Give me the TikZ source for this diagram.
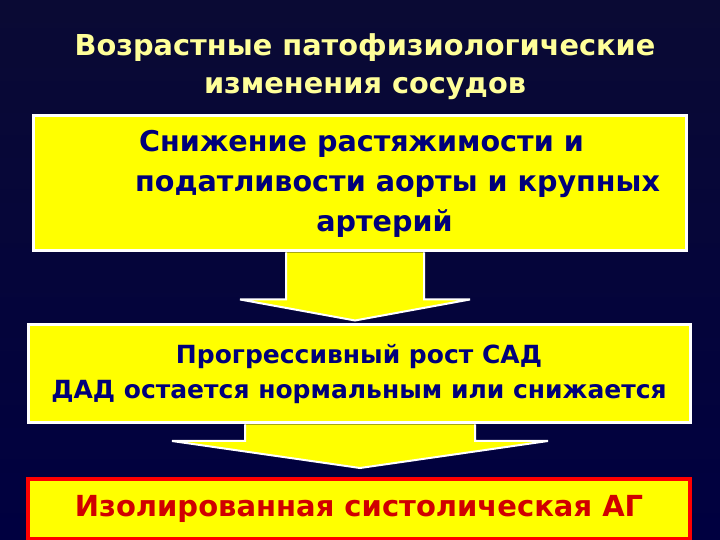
\documentclass[tikz,border=0pt]{standalone}
\usepackage{fontspec}
\setmainfont{DejaVu Sans}
\usepackage{tikz}
\usetikzlibrary{calc}

\definecolor{bgtop}{HTML}{0A0A34}
\definecolor{bgmid}{HTML}{000070}
\definecolor{bgbot}{HTML}{000040}
\definecolor{boxyel}{HTML}{FFFF00}
\definecolor{txtnavy}{HTML}{00007A}
\definecolor{ttlyel}{HTML}{FFFF99}
\definecolor{agred}{HTML}{D00000}
\definecolor{agbord}{HTML}{FF0000}

% block arrow: top of shaft, tip, half shaft, half head, head length
\newcommand{\blockarr}[5]{%
  \filldraw[yarrow] ($(#1)+(-#3,0)$) -- ($(#2)+(-#3,#5)$) -- ($(#2)+(-#4,#5)$)
    -- (#2) -- ($(#2)+(#4,#5)$) -- ($(#2)+(#3,#5)$) -- ($(#1)+(#3,0)$);}

\begin{document}
\begin{tikzpicture}[x=1pt,y=1pt,
  ybox/.style={rectangle,draw=white,line width=3pt,fill=boxyel,inner sep=0pt,align=center,text=txtnavy},
  yarrow/.style={draw=white,line width=2pt,fill=boxyel,line join=miter}]
			\useasboundingbox (0,0) rectangle (720,540);
			\shade[top color=bgtop,middle color=bgmid,bottom color=bgbot] (0,0) rectangle (720,540);

			\node [align=center,text=ttlyel,font={\fontsize{28.8}{38}\selectfont\bfseries}] (title) at (365,473)
				{Возрастные патофизиологические\\
				 изменения сосудов};

			\node [ybox,minimum width=653,minimum height=135,font={\fontsize{28.6}{40}\selectfont\bfseries}] (snizh) at (359.5,356.5)
				{\hspace*{4pt}Снижение растяжимости и\\
				 \hspace*{76pt}податливости аорты и крупных\\
				 \hspace*{50pt}артерий};

			\node [ybox,minimum width=662,minimum height=98,font={\fontsize{25}{35}\selectfont\bfseries}] (sad) at (359,166)
				{Прогрессивный рост САД\\
				 ДАД остается нормальным или снижается};

			\node [ybox,draw=agbord,line width=4pt,text=agred,minimum width=662,minimum height=60,font={\fontsize{29}{36}\selectfont\bfseries}] (isag) at (359,31)
				{Изолированная систолическая АГ};

			\coordinate (a1top) at ($(snizh.south)+(-4.5,0)$);
			\coordinate (a1tip) at ($(sad.north)+(-4,3)$);
			\coordinate (a2top) at ($(sad.south)+(1,0)$);
			\coordinate (a2tip) at ($(isag.north)+(1,9)$);
			\blockarr{a1top}{a1tip}{69}{115}{21}
			\blockarr{a2top}{a2tip}{115}{188}{27}
		\end{tikzpicture}
\end{document}
